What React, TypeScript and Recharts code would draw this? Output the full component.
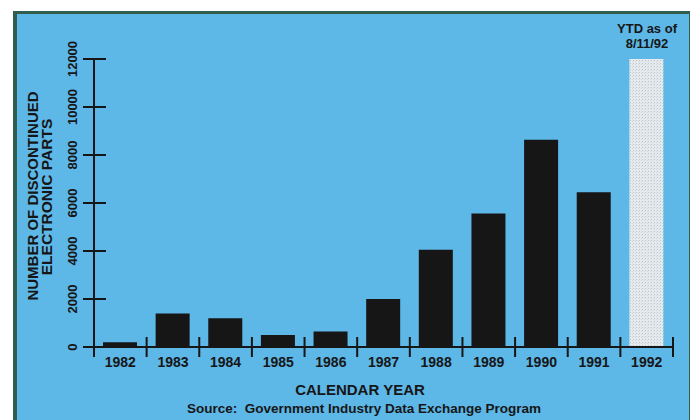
import React from 'react';
import { BarChart, Bar, XAxis, YAxis, Cell } from 'recharts';

const YEARS = ['1982', '1983', '1984', '1985', '1986', '1987', '1988', '1989', '1990', '1991', '1992'];
const PARTS = [200, 1400, 1200, 500, 650, 2000, 4050, 5560, 8640, 6450, 12000];
const IS_YTD = [false, false, false, false, false, false, false, false, false, false, true];
const Y_TICKS = [0, 2000, 4000, 6000, 8000, 10000, 12000];
const Y_LABEL_LINES = ['NUMBER OF DISCONTINUED', 'ELECTRONIC PARTS'];
const X_LABEL = 'CALENDAR YEAR';
const SOURCE = 'Source:  Government Industry Data Exchange Program';
const YTD_NOTE = ['YTD as of', '8/11/92'];

const data = YEARS.map((year, i) => ({ year, parts: PARTS[i], ytd: IS_YTD[i] }));

const W = 690;
const H = 420;
const MARGIN = { top: 59, right: 17, bottom: 43, left: 64 };
const Y_AXIS_W = 30;
const X_AXIS_H = 30;
const PLOT_W = W - MARGIN.left - Y_AXIS_W - MARGIN.right;
const HALF_BAND = PLOT_W / YEARS.length / 2;

const FONT = '"Liberation Sans", Arial, Helvetica, sans-serif';
const INK = '#161616';
const PANEL = '#5db7e7';
const BORDER = '#2f5f4c';

const XTick = (props: any) => {
  const { x, y, payload, index } = props;
  return (
    <g>
      <line x1={x - HALF_BAND} x2={x - HALF_BAND} y1={y - 10} y2={y + 10} stroke={INK} strokeWidth={2} />
      {index === YEARS.length - 1 && (
        <line x1={x + HALF_BAND} x2={x + HALF_BAND} y1={y - 10} y2={y + 10} stroke={INK} strokeWidth={2} />
      )}
      <text x={x} y={y + 20} textAnchor="middle" fontFamily={FONT} fontSize={14} fontWeight="bold" fill={INK}>
        {payload.value}
      </text>
    </g>
  );
};

const YTick = (props: any) => {
  const { x, y, payload } = props;
  const tx = x - 17;
  return (
    <g>
      <line x1={x - 11} x2={x + 12} y1={y} y2={y} stroke={INK} strokeWidth={2} />
      <text
        x={tx}
        y={y}
        transform={`rotate(-90, ${tx}, ${y})`}
        textAnchor="middle"
        fontFamily={FONT}
        fontSize={13}
        fontWeight="bold"
        fill={INK}
      >
        {payload.value}
      </text>
    </g>
  );
};

export default function App() {
  return (
    <div style={{ position: 'absolute', left: 0, top: 0, width: W, height: H, background: '#ffffff', overflow: 'hidden' }}>
      <svg width={0} height={0} style={{ position: 'absolute' }}>
        <defs>
          <pattern id="ytdStipple" width="3" height="3" patternUnits="userSpaceOnUse">
            <rect width="3" height="3" fill="#e6eaec" />
            <rect x="0" y="0" width="1" height="1" fill="#b9c5cc" />
            <rect x="2" y="1" width="1" height="1" fill="#cfd8dd" />
          </pattern>
        </defs>
      </svg>
      <div
        style={{
          position: 'absolute',
          left: 13,
          top: 11,
          width: 672,
          height: 420,
          background: PANEL,
          borderLeft: `4px solid ${BORDER}`,
          borderTop: `3px solid ${BORDER}`,
          borderRight: `3px solid ${BORDER}`,
        }}
      />
      <div style={{ position: 'absolute', left: 0, top: 0 }}>
        <BarChart width={W} height={H} data={data} margin={MARGIN} barSize={34}>
          <XAxis
            dataKey="year"
            height={X_AXIS_H}
            tickSize={0}
            tickMargin={0}
            tickLine={false}
            axisLine={{ stroke: INK, strokeWidth: 2 }}
            tick={<XTick />}
            interval={0}
          />
          <YAxis
            width={Y_AXIS_W}
            domain={[0, 12000]}
            ticks={Y_TICKS}
            tickSize={0}
            tickMargin={0}
            tickLine={false}
            axisLine={{ stroke: INK, strokeWidth: 2 }}
            tick={<YTick />}
            interval={0}
          />
          <Bar dataKey="parts" isAnimationActive={false}>
            {data.map((d) => (
              <Cell key={d.year} fill={d.ytd ? 'url(#ytdStipple)' : INK} />
            ))}
          </Bar>
        </BarChart>
      </div>
      <svg width={W} height={H} style={{ position: 'absolute', left: 0, top: 0, pointerEvents: 'none' }}>
        <g fontFamily={FONT} fontWeight="bold" fill={INK}>
          <text x={37.5} y={196} transform="rotate(-90, 37.5, 196)" textAnchor="middle" fontSize={15}>
            {Y_LABEL_LINES[0]}
          </text>
          <text x={52} y={197} transform="rotate(-90, 52, 197)" textAnchor="middle" fontSize={15.5}>
            {Y_LABEL_LINES[1]}
          </text>
          <text x={360} y={395} textAnchor="middle" fontSize={15}>
            {X_LABEL}
          </text>
          <text x={364} y={413} textAnchor="middle" fontSize={13.5} style={{ whiteSpace: 'pre' }}>
            {SOURCE}
          </text>
          <text x={647} y={33} textAnchor="middle" fontSize={13}>
            {YTD_NOTE[0]}
          </text>
          <text x={647} y={48} textAnchor="middle" fontSize={13}>
            {YTD_NOTE[1]}
          </text>
        </g>
      </svg>
    </div>
  );
}
